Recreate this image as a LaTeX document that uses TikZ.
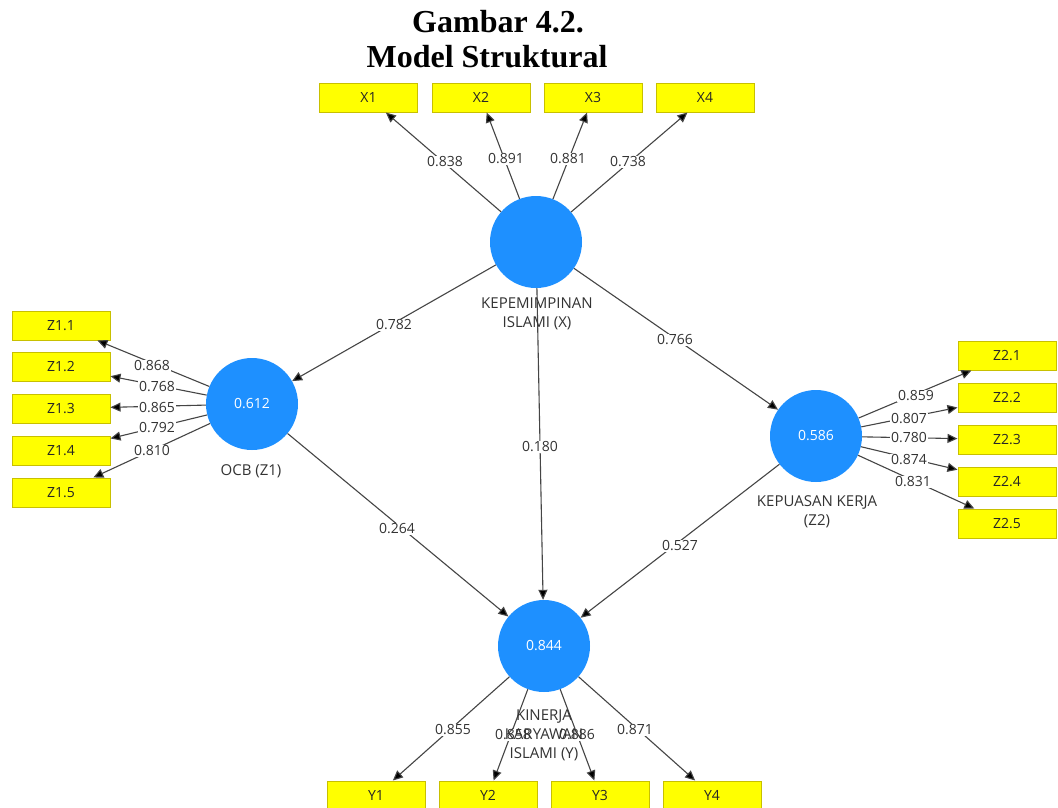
\documentclass[tikz,border=0pt]{standalone}
\usepackage{fontspec}
\setmainfont{Liberation Serif}
\newfontfamily\uifont{Open Sans}
\usetikzlibrary{arrows.meta}
\definecolor{ind}{HTML}{FFFF00}
\definecolor{indborder}{HTML}{C8C000}
\definecolor{lv}{HTML}{1E90FF}
\definecolor{edgec}{HTML}{454545}
\definecolor{txt}{HTML}{333333}
\begin{document}
\begin{tikzpicture}[x=1pt,y=-1pt,
 indbox/.style={draw=indborder, fill=ind, line width=1pt, minimum width=98pt, minimum height=29pt, inner sep=0pt, font=\uifont\fontsize{14}{16}\selectfont, text=black!85},
 latent/.style={circle, fill=lv, minimum size=92pt, inner sep=0pt, font=\uifont\fontsize{14}{16}\selectfont, text=white},
 link/.style={draw=edgec, line width=1.1pt, -{Triangle[length=10pt,width=9pt,fill=black]}},
 coef/.style={fill=white, inner sep=1pt, font=\uifont\fontsize{14}{16}\selectfont, text=txt},
 lvname/.style={font=\uifont\fontsize{15}{19}\selectfont, text=txt, align=center, inner sep=0pt},
 titlefont/.style={font=\fontsize{32}{36}\selectfont\bfseries, inner sep=0pt, anchor=base}]
\useasboundingbox (0,0) rectangle (1058,807);
\clip (0,0) rectangle (1058,807);
\fill[white] (0,0) rectangle (1058,807);

% title
\node[titlefont] (t1) at (498,32) {Gambar 4.2.};
\node[titlefont] (t2) at (487,67) {Model Struktural};

% latent variables
\node[latent] (X) at (536,242) {};
\node[latent] (Z1) at (252,404) {0.612};
\node[latent] (Z2) at (816,436) {0.586};
\node[latent] (Y) at (544,646) {0.844};

% indicators
\node[indbox] (X1) at (368.5,97.5) {X1};
\node[indbox] (X2) at (481,97.5) {X2};
\node[indbox] (X3) at (593,97.5) {X3};
\node[indbox] (X4) at (705,97.5) {X4};

\node[indbox] (Z11) at (61,325.5) {Z1.1};
\node[indbox] (Z12) at (61,366.5) {Z1.2};
\node[indbox] (Z13) at (61,408.5) {Z1.3};
\node[indbox] (Z14) at (61,450.5) {Z1.4};
\node[indbox] (Z15) at (61,492.5) {Z1.5};

\node[indbox] (Z21) at (1007,355.5) {Z2.1};
\node[indbox] (Z22) at (1007,397.5) {Z2.2};
\node[indbox] (Z23) at (1007,439.5) {Z2.3};
\node[indbox] (Z24) at (1007,481.5) {Z2.4};
\node[indbox] (Z25) at (1007,523.5) {Z2.5};

\node[indbox] (Y1) at (376,795.5) {Y1};
\node[indbox] (Y2) at (488,795.5) {Y2};
\node[indbox] (Y3) at (600,795.5) {Y3};
\node[indbox] (Y4) at (712,795.5) {Y4};

% edges
\foreach \t in {X1,X2,X3,X4} \draw[link] (X) -- (\t);
\foreach \t in {Z11,Z12,Z13,Z14,Z15} \draw[link] (Z1) -- (\t);
\foreach \t in {Z21,Z22,Z23,Z24,Z25} \draw[link] (Z2) -- (\t);
\foreach \t in {Y1,Y2,Y3,Y4} \draw[link] (Y) -- (\t);
\draw[link] (X) -- (Z1);
\draw[link] (X) -- (Z2);
\draw[link] (X) -- (Y);
\draw[link] (Z1) -- (Y);
\draw[link] (Z2) -- (Y);

% coefficients
\node[coef] (cx1) at (445,162) {0.838};
\node[coef] (cx2) at (506,159) {0.891};
\node[coef] (cx3) at (568,159) {0.881};
\node[coef] (cx4) at (628,162) {0.738};

\node[coef] (cz11) at (152,366) {0.868};
\node[coef] (cz12) at (157,387) {0.768};
\node[coef] (cz13) at (157,408) {0.865};
\node[coef] (cz14) at (157,428) {0.792};
\node[coef] (cz15) at (152,451) {0.810};

\node[coef] (cz21) at (916,396) {0.859};
\node[coef] (cz22) at (909,419) {0.807};
\node[coef] (cz23) at (909,438) {0.780};
\node[coef] (cz24) at (909,460) {0.874};
\node[coef] (cz25) at (913,482) {0.831};

\node[coef] (cy1) at (453,730) {0.855};
\node[coef] (cy2) at (513,735) {0.858};
\node[coef] (cy3) at (577,735) {0.886};
\node[coef] (cy4) at (635,730) {0.871};

\node[coef] (cxz1) at (394,325) {0.782};
\node[coef] (cxz2) at (675,340) {0.766};
\node[coef] (cxy) at (540,447) {0.180};
\node[coef] (cz1y) at (397,529) {0.264};
\node[coef] (cz2y) at (680,546) {0.527};

% construct names
\node[lvname] (nX) at (537,314) {KEPEMIMPINAN\\ISLAMI (X)};
\node[lvname] (nZ1) at (251,471) {OCB (Z1)};
\node[lvname] (nZ2) at (817,512) {KEPUASAN KERJA\\(Z2)};
\node[lvname] (nY) at (544,735) {KINERJA\\KARYAWAN\\ISLAMI (Y)};
\end{tikzpicture}
\end{document}
